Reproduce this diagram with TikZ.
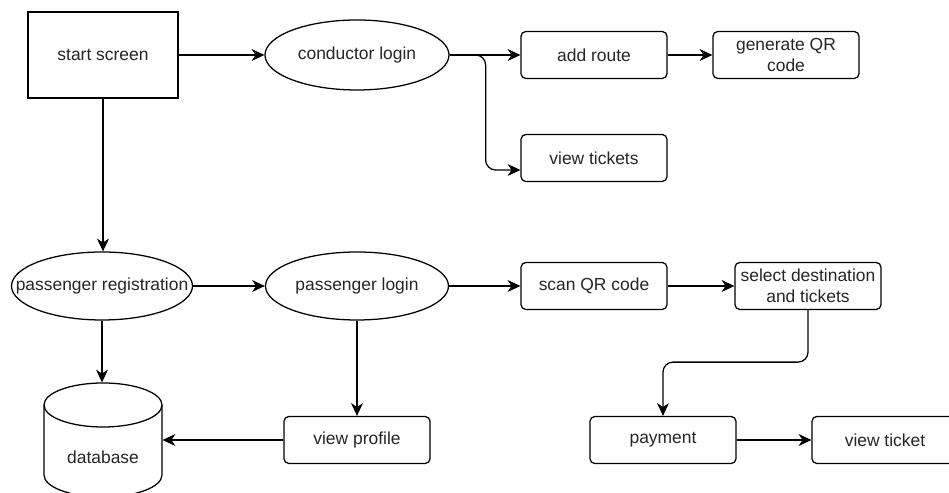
\documentclass[tikz,border=0pt]{standalone}
\usepackage{fontspec}
\setmainfont{Liberation Sans}
\usetikzlibrary{shapes,arrows.meta}

\tikzset{
  every node/.style={font=\fontsize{12.4}{14.7}\selectfont, text=black!85},
  box/.style={draw, rounded corners=1.2mm, minimum width=36.5mm, minimum height=11.75mm, inner sep=0pt, align=center},
  oval/.style={draw, ellipse, inner sep=0pt, minimum height=17mm},
  flow/.style={-{Stealth[length=3.2mm,width=3mm,inset=1mm]}},
}

\begin{document}
\begin{tikzpicture}[x=0.25mm, y=0.25mm, line width=0.9pt]
%      \draw[help lines] (0,0) grid[step=50] (949,493);
      \useasboundingbox (0,0) rectangle (949,493);

      % conductor side
      \node[draw, minimum width=37.5mm, minimum height=21.5mm, inner sep=0pt] (start) at (103,438) {start screen};
      \node[oval, minimum width=46mm, minimum height=17.5mm] (cl) at (357,438) {\makebox[0pt]{conductor login}};
      \node[box] (addr) at (594,438) {add route};
      \node[box] (genqr) at (786,438) {generate QR\\code};
      \node[box] (vtk) at (594,335) {view tickets};
      \coordinate (vtin) at ([yshift=-3mm]vtk.west);

      % passenger side
      \node[oval, minimum width=45.25mm] (preg) at (102,207) {\makebox[0pt]{passenger registration}};
      \node[oval, minimum width=45.75mm] (pl) at (357,207) {\makebox[0pt]{passenger login}};
      \node[box] (scan) at (594,207) {scan QR code};
      \node[box] (seld) at (808,207) {select destination\\and tickets};
      \node[box] (vp) at (357,53) {view profile};
      \node[box] (pay) at (663,53) {payment};
      \node[box] (vt) at (885,53) {view ticket};

      % database
      \node[minimum width=29.5mm, minimum height=37mm] (db) at (103,36) {database};
      \draw (44,88) -- (44,18) arc[start angle=180, end angle=360, x radius=14.75mm, y radius=5.5mm] -- (162,88);
      \draw (103,88) ellipse [x radius=14.75mm, y radius=5.5mm];

      \draw[flow] (start) -- (cl);
      \draw[flow] (cl) -- (addr);
      \draw[flow] (addr) -- (genqr);
      \draw[flow, rounded corners=2.5mm] (cl.east) -- ++(36,0) |- (vtin);
      \draw[flow] (start.south) -- (start.south |- preg.north);
      \draw[flow] (preg) -- (pl);
      \draw[flow] (pl) -- (scan);
      \draw[flow] (scan) -- (seld);
      \draw[flow, rounded corners=2.5mm] (seld.south) -- ++(0,-52) -| (pay.north);
      \draw[flow] (pay) -- (vt);
      \draw[flow] (pl) -- (vp);
      \draw[flow] (vp.west) -- (vp.west -| db.east);
      \draw[flow] (preg.south) -- (preg.south |- db.north);
\end{tikzpicture}
\end{document}
